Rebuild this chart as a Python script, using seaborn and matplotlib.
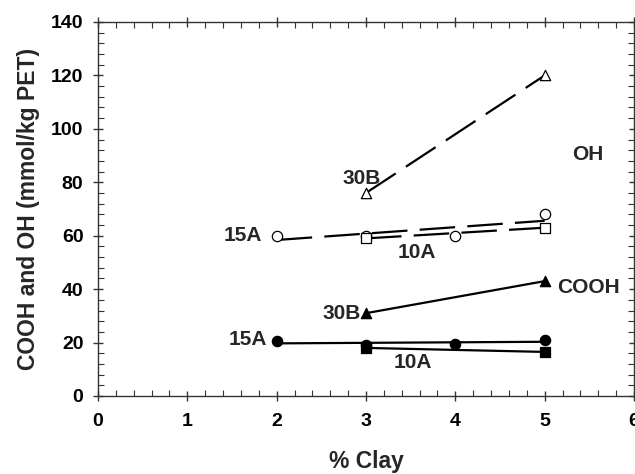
import numpy as np
import pandas as pd
import seaborn as sns
import matplotlib.pyplot as plt
from matplotlib.ticker import MultipleLocator

# clay loading (%) and end-group concentrations (mmol/kg PET)
oh_30b_x = [3, 5]
oh_30b_y = [76, 120]
oh_15a_x = [2, 3, 4, 5]
oh_15a_y = [60, 60, 60, 68]
oh_10a_x = [3, 5]
oh_10a_y = [59, 63]

cooh_30b_x = [3, 5]
cooh_30b_y = [31, 43]
cooh_15a_x = [2, 3, 4, 5]
cooh_15a_y = [20.5, 19, 19.5, 21]
cooh_10a_x = [3, 5]
cooh_10a_y = [18, 16.5]

# label text and where it sits
labels = ['OH', 'COOH', '30B', '10A', '15A', '15A', '30B', '10A']
label_x = [5.48, 5.49, 2.95, 3.57, 1.62, 1.68, 2.73, 3.52]
label_y = [90.3, 40.5, 81.4, 53.7, 60.0, 21.0, 31.0, 12.4]

sns.set_style('ticks')
plt.rcParams['font.family'] = ['Liberation Sans', 'DejaVu Sans']
plt.rcParams['font.weight'] = 'bold'

fig = plt.figure(figsize=(6.35, 4.74), dpi=100)
ax = fig.add_axes([98 / 635, 1 - 396 / 474, 536 / 635, 374 / 474])

dash = (0, (16, 5.5))
series = [
    (oh_30b_x, oh_30b_y, '^', 'white', dash),
    (oh_15a_x, oh_15a_y, 'o', 'white', dash),
    (oh_10a_x, oh_10a_y, 's', 'white', dash),
    (cooh_30b_x, cooh_30b_y, '^', 'black', '-'),
    (cooh_15a_x, cooh_15a_y, 'o', 'black', '-'),
    (cooh_10a_x, cooh_10a_y, 's', 'black', '-'),
]
for xs, ys, mk, fc, ls in series:
    df = pd.DataFrame({'clay': xs, 'conc': ys})
    sns.regplot(data=df, x='clay', y='conc', ax=ax, ci=None, marker=mk, color='black',
                scatter_kws={'s': 55, 'facecolors': fc, 'edgecolors': 'black',
                             'linewidths': 0.9, 'alpha': 1, 'zorder': 3},
                line_kws={'linewidth': 1.6, 'linestyle': ls, 'zorder': 2})

for t, x, y in zip(labels, label_x, label_y):
    ax.text(x, y, t, ha='center', va='center', fontsize=15, fontweight='bold')

ax.set_xlim(0, 6)
ax.set_ylim(0, 140)
ax.xaxis.set_major_locator(MultipleLocator(1))
ax.xaxis.set_minor_locator(MultipleLocator(0.2))
ax.yaxis.set_major_locator(MultipleLocator(20))
ax.yaxis.set_minor_locator(MultipleLocator(4))
ax.tick_params(which='both', top=True, right=True, colors='#333333')
ax.tick_params(which='major', direction='inout', length=7, width=1, labelsize=14,
               labelcolor='black')
ax.tick_params(axis='x', which='major', pad=9)
ax.tick_params(axis='y', which='major', pad=7)
ax.tick_params(which='minor', direction='in', length=4, width=0.8)
for s in ax.spines.values():
    s.set_color('#333333')
    s.set_linewidth(1)
for lbl in ax.get_xticklabels() + ax.get_yticklabels():
    lbl.set_fontweight('bold')

ax.set_xlabel('% Clay', fontsize=16.5, fontweight='bold', labelpad=14)
ax.set_ylabel('COOH and OH (mmol/kg PET)', fontsize=16.5, fontweight='bold', labelpad=8)

fig.savefig('out.png', dpi=100)
